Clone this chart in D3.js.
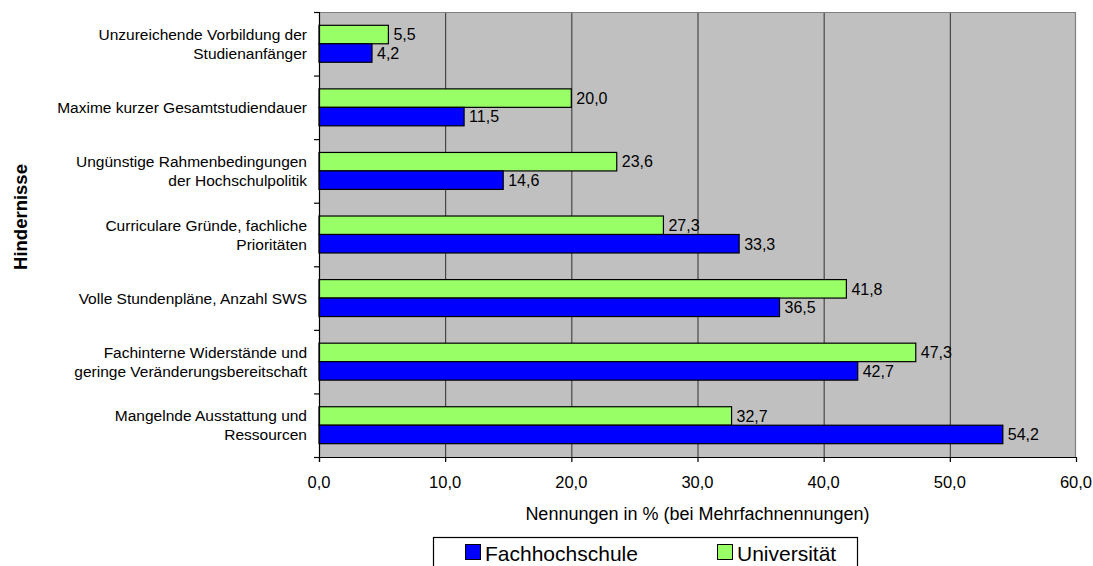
<!DOCTYPE html>
<html><head><meta charset="utf-8">
<script src="https://cdn.jsdelivr.net/npm/d3@7"></script>
<style>body{margin:0;background:#fff}svg{display:block}text{font-family:"Liberation Sans",Arial,sans-serif;fill:#000}</style>
</head><body>
<svg id="c" width="1093" height="566"></svg>
<script>
const categories = [
  ["Unzureichende Vorbildung der","Studienanfänger"],
  ["Maxime kurzer Gesamtstudiendauer"],
  ["Ungünstige Rahmenbedingungen","der Hochschulpolitik"],
  ["Curriculare Gründe, fachliche","Prioritäten"],
  ["Volle Stundenpläne, Anzahl SWS"],
  ["Fachinterne Widerstände und","geringe Veränderungsbereitschaft"],
  ["Mangelnde Ausstattung und","Ressourcen"]
];
const seriesNames = ["Fachhochschule","Universität"];
const fachhochschule = [4.2, 11.5, 14.6, 33.3, 36.5, 42.7, 54.2];
const universitaet = [5.5, 20.0, 23.6, 27.3, 41.8, 47.3, 32.7];
const xTicks = [0,10,20,30,40,50,60];
const xTitle = "Nennungen in % (bei Mehrfachnennungen)";
const yTitle = "Hindernisse";

const colors = {"Fachhochschule":"#0000FF","Universität":"#99FF66"};
const fmt = v => d3.format(".1f")(v).replace(".", ",");

const svg = d3.select("#c");
const L=319, R=1076, T=12, B=457;
const x = d3.scaleLinear().domain([0,60]).range([L,R]);
const idx = categories.map((c,i)=>i);
const y = d3.scaleBand().domain(idx).range([T,B]).padding(0);
const sub = d3.scaleBand().domain(["Universität","Fachhochschule"]).range([0,y.bandwidth()]).paddingInner(0).paddingOuter(0.72);

// plot background
svg.append("rect").attr("x",L).attr("y",T).attr("width",R-L).attr("height",B-T).attr("fill","#C0C0C0");
// gridlines
svg.append("g").selectAll("line").data(xTicks.filter(t=>t>0&&t<60)).join("line")
  .attr("x1",d=>x(d)+0.5).attr("x2",d=>x(d)+0.5).attr("y1",T).attr("y2",B)
  .attr("stroke","#303030").attr("stroke-width",1);
// border top/right
svg.append("path").attr("d",`M${L},${T+0.5}H${R-0.5}V${B}`).attr("fill","none").attr("stroke","#808080").attr("stroke-width",1.2);

// bars
const rows = [];
idx.forEach(i=>{
  rows.push({i, s:"Universität", v:universitaet[i]});
  rows.push({i, s:"Fachhochschule", v:fachhochschule[i]});
});
svg.append("g").selectAll("rect").data(rows).join("rect")
  .attr("x",x(0)).attr("y",d=>y(d.i)+sub(d.s))
  .attr("width",d=>x(d.v)-x(0)).attr("height",sub.bandwidth())
  .attr("fill",d=>colors[d.s]).attr("stroke","#000").attr("stroke-width",1.2);
svg.append("g").selectAll("text").data(rows).join("text")
  .attr("x",d=>x(d.v)+5).attr("y",d=>y(d.i)+sub(d.s)+sub.bandwidth()/2)
  .attr("dy","0.36em").attr("font-size","16px").text(d=>fmt(d.v));

// y axis
svg.append("line").attr("x1",L+0.5).attr("x2",L+0.5).attr("y1",T).attr("y2",B+5).attr("stroke","#000").attr("stroke-width",1.2);
const bounds = idx.map(i=>y(i)).concat([B]);
svg.append("g").selectAll("line").data(bounds).join("line")
  .attr("x1",L-5).attr("x2",L).attr("y1",d=>d+0.5).attr("y2",d=>d+0.5).attr("stroke","#000").attr("stroke-width",1.2);
// category labels
const cl = svg.append("g").selectAll("text").data(idx).join("text")
  .attr("text-anchor","end").attr("font-size","15.5px")
  .attr("y",i=>y(i)+y.bandwidth()/2);
cl.each(function(i){
  const lines = categories[i]; const n=lines.length; const lh=19;
  d3.select(this).selectAll("tspan").data(lines).join("tspan")
    .attr("x",307).attr("dy",(d,k)=> k===0 ? ((-(n-1)*lh/2)+5.5) : lh).text(d=>d);
});

// x axis
svg.append("line").attr("x1",L).attr("x2",R).attr("y1",B+0.5).attr("y2",B+0.5).attr("stroke","#000").attr("stroke-width",1.2);
svg.append("g").selectAll("line").data(xTicks).join("line")
  .attr("x1",d=>x(d)+0.5).attr("x2",d=>x(d)+0.5).attr("y1",B).attr("y2",B+5).attr("stroke","#000").attr("stroke-width",1.2);
svg.append("g").selectAll("text").data(xTicks).join("text")
  .attr("x",d=>x(d)).attr("y",488).attr("text-anchor","middle").attr("font-size","16.5px").text(d=>fmt(d));

svg.append("text").attr("x",(L+R)/2).attr("y",520).attr("text-anchor","middle").attr("font-size","18px").text(xTitle);
svg.append("text").attr("transform","translate(27,217) rotate(-90)").attr("text-anchor","middle")
  .attr("font-size","18.5px").attr("font-weight","bold").text(yTitle);

// legend
svg.append("rect").attr("x",433.5).attr("y",537.5).attr("width",424).attr("height",40).attr("fill","#fff").attr("stroke","#000").attr("stroke-width",1.2);
const leg = [{s:"Fachhochschule",x:465},{s:"Universität",x:717}];
const lg = svg.append("g").selectAll("g").data(leg).join("g");
lg.append("rect").attr("x",d=>d.x+0.5).attr("y",544.5).attr("width",15).attr("height",15)
  .attr("fill",d=>colors[d.s]).attr("stroke","#000").attr("stroke-width",1);
lg.append("text").attr("x",d=>d.x+20).attr("y",561).attr("font-size","21px").text(d=>d.s);
</script>
</body></html>
